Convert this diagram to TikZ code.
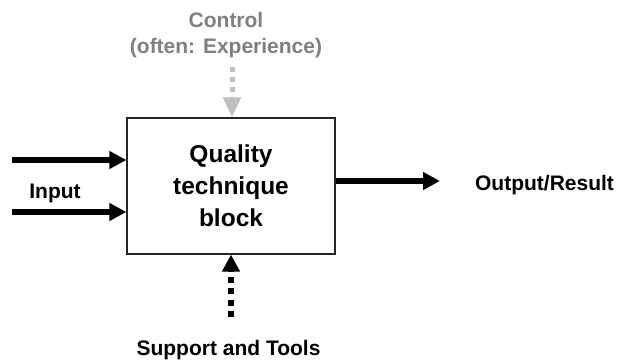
\documentclass[tikz,border=0pt]{standalone}
\usepackage{fontspec}
\setmainfont{Liberation Sans}
\usepackage{tikz}
\usetikzlibrary{arrows.meta}
\definecolor{ctrltext}{RGB}{128,128,128}
\definecolor{ctrlarrow}{RGB}{192,192,192}
\newcommand{\drawflow}{\draw[line width=6pt,-{Triangle[length=17pt,width=17pt]}]}
\tikzset{
  flowtext/.style={font=\bfseries\fontsize{21}{26}\selectfont,inner sep=0pt,align=center},
  blockbox/.style={draw=black!85,line width=1.2pt,minimum width=208pt,minimum height=136pt,
    inner sep=0pt,align=center,font=\bfseries\fontsize{24.5}{32}\selectfont}
}

\begin{document}
\begin{tikzpicture}[x=1pt,y=-1pt]
\useasboundingbox (0,0) rectangle (623,361);
\node[blockbox] (qtb) at (231,186) {Quality\\technique\\block};
\coordinate (in1) at (12,160);
\coordinate (in2) at (12,212);
\coordinate (out) at (440,181);
\coordinate (ctrlstart) at (232,67);
\coordinate (supstart) at (231,317);
\drawflow (in1) -- (in1 -| qtb.west);
\drawflow (in2) -- (in2 -| qtb.west);
\drawflow (out -| qtb.east) -- (out);
\draw[line width=5pt,ctrlarrow,dash pattern=on 5pt off 5pt,-{Triangle[length=20pt,width=17pt]}] (ctrlstart) -- (ctrlstart |- qtb.north);
\draw[line width=6pt,dash pattern=on 6pt off 5.5pt,-{Triangle[length=17pt,width=17pt]}] (supstart) -- (supstart |- qtb.south);
\node[flowtext] (input) at (55,193) {Input};
\node[flowtext] (output) at (544.5,185) {Output/Result};
\node[flowtext] (support) at (228.5,350) {Support and Tools};
\node[flowtext,text=ctrltext] (control) at (226,35) {Control\\(often: Experience)};
\end{tikzpicture}
\end{document}
